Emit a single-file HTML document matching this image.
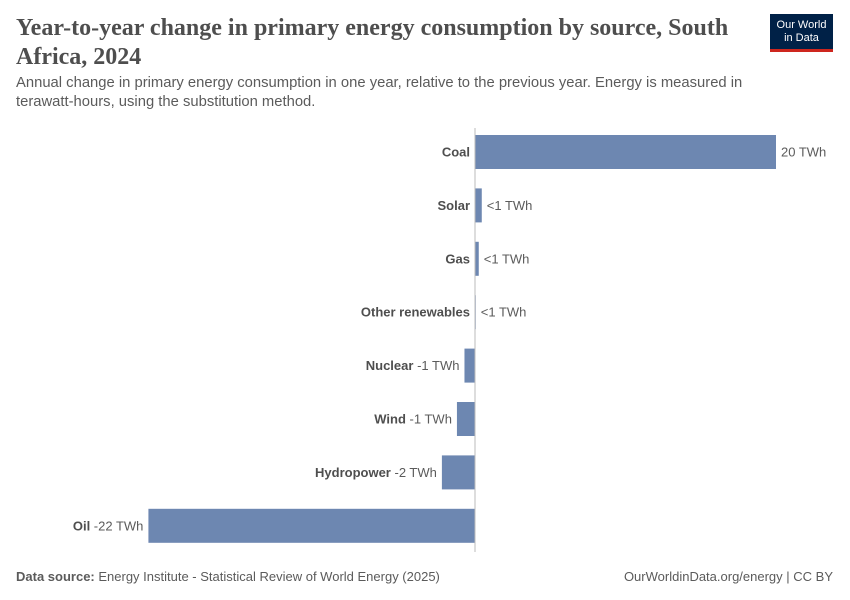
<!DOCTYPE html>
<html><head><meta charset="utf-8">
<style>
body{margin:0;background:#fff;width:850px;height:600px;overflow:hidden;font-family:"Liberation Sans",sans-serif;position:relative}
.title{position:absolute;left:16px;top:14px;width:730px;font-family:"Liberation Serif",serif;font-size:24px;font-weight:bold;line-height:29px;color:#4e4e4e}
.sub{position:absolute;left:16px;top:74px;width:750px;font-size:14.8px;line-height:19px;color:#5b5b5b}
.logo{position:absolute;left:770px;top:14px;width:63px;height:38px;background:#002147;color:#fff;font-size:11px;line-height:13px;text-align:center;padding-top:5px;box-sizing:border-box;border-bottom:3px solid #ce261e}
.foot{position:absolute;top:569px;font-size:13px;color:#5b5b5b}
</style></head><body>
<div class="title">Year-to-year change in primary energy consumption by source, South Africa, 2024</div>
<div class="sub">Annual change in primary energy consumption in one year, relative to the previous year. Energy is measured in terawatt-hours, using the substitution method.</div>
<div class="logo">Our World<br>in Data</div>
<svg id="chart" width="850" height="600" style="position:absolute;left:0;top:0"></svg>
<div class="foot" style="left:16px"><b>Data source:</b> Energy Institute - Statistical Review of World Energy (2025)</div>
<div class="foot" style="right:17px">OurWorldinData.org/energy | CC BY</div>
<script>
const categories=["Coal","Solar","Gas","Other renewables","Nuclear","Wind","Hydropower","Oil"];
const values=[20.0,0.45,0.25,0.05,-0.7,-1.2,-2.2,-21.7];
const valueLabels=["20 TWh","<1 TWh","<1 TWh","<1 TWh","-1 TWh","-1 TWh","-2 TWh","-22 TWh"];
const svg=document.getElementById('chart');
const NS="http://www.w3.org/2000/svg";
const x0=475, pxPer=15.05;
const xs=v=>x0+v*pxPer;
const rowTop=135, rowStep=53.4, barH=34;
function mk(t,a){const e=document.createElementNS(NS,t);for(const k in a)e.setAttribute(k,a[k]);svg.appendChild(e);return e;}
categories.forEach((c,i)=>{
  const v=values[i];const y=rowTop+i*rowStep;const cy=y+barH/2+4.5;
  const x1=Math.min(xs(v),x0),x2=Math.max(xs(v),x0);
  const r=mk('rect',{x:x1,y:y,width:Math.max(x2-x1,0.5),height:barH,fill:'#6d87b1'});
  
  
  if(v>=0){
    const t=mk('text',{x:x0-5,y:cy,'text-anchor':'end','font-size':13,'font-weight':'bold',fill:'#4e4e4e'});t.textContent=c;
    
    const l=mk('text',{x:x2+5,y:cy,'font-size':13,fill:'#5b5b5b'});l.textContent=valueLabels[i];
    
  }else{
    const t=mk('text',{x:x1-5,y:cy,'text-anchor':'end','font-size':13,fill:'#4e4e4e'});
    const a=document.createElementNS(NS,'tspan');a.setAttribute('font-weight','bold');a.textContent=c+' ';t.appendChild(a);
    const b=document.createElementNS(NS,'tspan');b.setAttribute('fill','#5b5b5b');b.textContent=valueLabels[i];t.appendChild(b);
    
  }
});
const z=mk('line',{x1:x0,x2:x0,y1:128,y2:552,stroke:'#bbb','stroke-width':1});

</script>
</body></html>
